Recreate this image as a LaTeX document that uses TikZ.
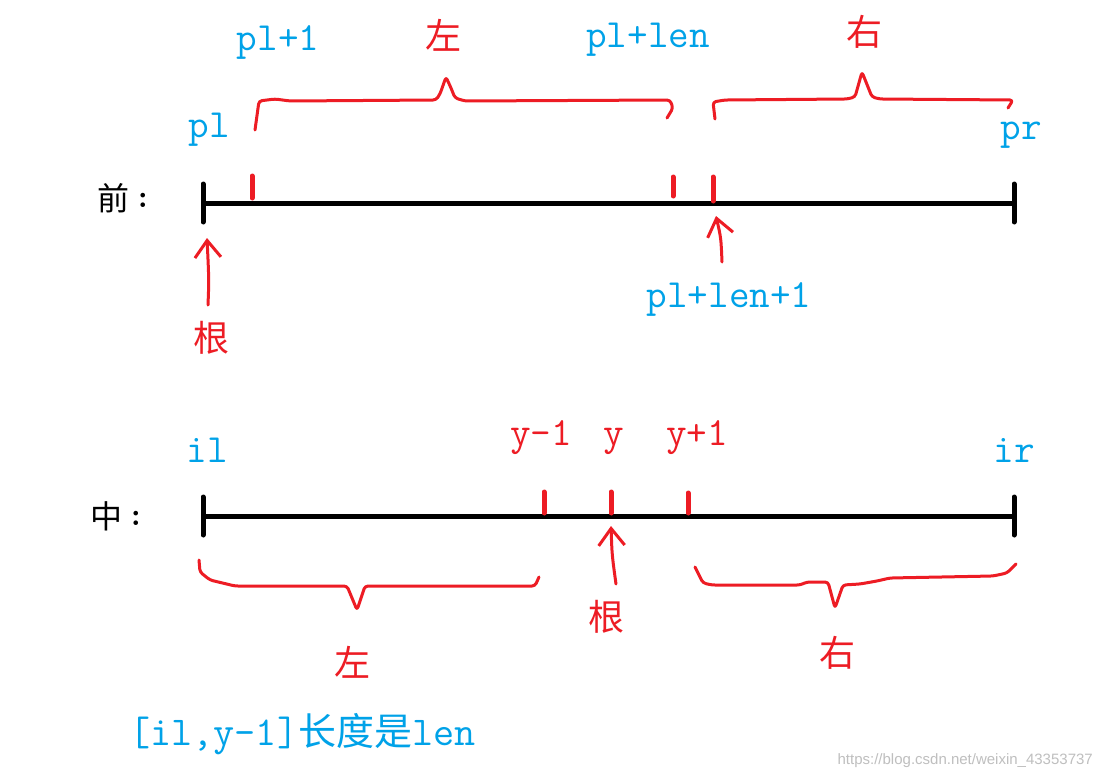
\documentclass[tikz,border=0pt]{standalone}
\usepackage{fontspec}
\newfontfamily\cjk{Noto Sans CJK SC}
\newfontfamily\wmfont{Liberation Sans}
\usetikzlibrary{arrows.meta}
\definecolor{pblue}{RGB}{0,162,232}
\definecolor{pred}{RGB}{237,28,36}
\tikzset{
  axis/.style={line width=5pt, black},
  endtick/.style={line width=5pt, black, line cap=round},
  redtick/.style={line width=5pt, pred, line cap=round},
  brace/.style={line width=3pt, pred, line cap=round, line join=round, rounded corners=3pt},
  arr/.style={line width=3pt, pred, line cap=round, -{Straight Barb[length=17pt,width=26pt,line width=3pt]}},
  bluelab/.style={font=\ttfamily\fontsize{40}{40}\selectfont, text=pblue, inner sep=0pt, anchor=base},
  redlab/.style={font=\ttfamily\fontsize{40}{40}\selectfont, text=pred, inner sep=0pt, anchor=base},
  zhred/.style={font=\cjk\fontsize{36}{36}\selectfont, text=pred, inner sep=0pt},
  zhblack/.style={font=\cjk\fontsize{32}{32}\selectfont, text=black, inner sep=0pt},
}
\begin{document}
\begin{tikzpicture}[x=1pt,y=-1pt]
\useasboundingbox (0,0) rectangle (1101,779);
\fill[white] (0,0) rectangle (1101,779);

% ---------- top line (pre-order) ----------
\coordinate (pa) at (203,203);
\coordinate (pb) at (1014,203);
\draw[axis] (pa) -- (pb);
\draw[endtick] (203,184) -- (203,222);
\draw[endtick] (1014,184) -- (1014,222);
\draw[redtick] (252,176) -- (252,198);
\draw[redtick] (673,177) -- (673,196);
\draw[redtick] (713,177) -- (713,201);

\node[zhblack] (qian) at (113,198) {前};
\node[zhblack, font=\bfseries\fontsize{32}{32}\selectfont] (qianc) at (143,200) {:};
\node[bluelab] (pl) at (209,137) {pl};
\node[bluelab] (pr) at (1021,139) {pr};
\node[bluelab] (pl1) at (278,50) {pl+1};
\node[bluelab] (pllen) at (648,47) {pl+len};
\node[zhred] (zuo1) at (443,35) {左};
\node[zhred] (you1) at (864,32) {右};

\draw[brace] (255,130) -- (259,101) -- (275,99) -- (290,101) -- (436,100) -- (440,94) -- (446,77) -- (451,88) -- (455,98) -- (465,101) -- (670,100) -- (673,108) -- (667,118);
\draw[brace] (715,119) -- (713,102) -- (725,100) -- (847,99) -- (855,97) -- (862,72) -- (872,97) -- (880,99) -- (1013,100) -- (1008,108);

\node[zhred] (gen1) at (211,338) {根};
\coordinate (g1s) at (208,305);
\coordinate (g1e) at (207,238);
\draw[arr] (g1s) .. controls (209,280) .. (g1e);

\node[bluelab] (pllen1) at (729,307) {pl+len+1};
\coordinate (p2s) at (722,262);
\coordinate (p2e) at (716,216);
\draw[arr] (p2s) .. controls (721,238) .. (p2e);

% ---------- bottom line (in-order) ----------
\coordinate (ia) at (203,516);
\coordinate (ib) at (1014,516);
\draw[axis] (ia) -- (ib);
\draw[endtick] (203,497) -- (203,535);
\draw[endtick] (1014,497) -- (1014,535);
\draw[redtick] (544,492) -- (544,513);
\draw[redtick] (611,492) -- (611,513);
\draw[redtick] (688,493) -- (688,513);

\node[zhblack] (zhong) at (106,516) {中};
\node[zhblack, font=\bfseries\fontsize{32}{32}\selectfont] (zhongc) at (136,518) {:};
\node[bluelab] (il) at (207,462) {il};
\node[bluelab] (ir) at (1014,462) {ir};
\node[redlab] (ym1) at (541,445) {y-1};
\node[redlab] (yy) at (614,445) {y};
\node[redlab] (yp1) at (697,445) {y+1};

\node[zhred] (gen2) at (606,617) {根};
\coordinate (g2s) at (616,584);
\coordinate (g2e) at (611,526);
\draw[arr] (g2s) .. controls (612,555) .. (g2e);

\draw[brace] (199,560) -- (200,572) -- (210,580) -- (235,586) -- (347,586) -- (357,610) -- (365,586) -- (535,586) -- (539,577);
\draw[brace] (695,567) -- (703,583) -- (712,585) -- (800,585) -- (807,582) -- (828,582) -- (835,608) -- (843,585) -- (860,584) -- (877,581) -- (890,578) -- (993,576) -- (1007,573) -- (1016,564);

\node[zhred] (zuo2) at (352,662) {左};
\node[zhred] (you2) at (837,653) {右};

\node[inner sep=0pt, anchor=base west, text=pblue] (note) at (129,745)
  {\ttfamily\fontsize{41}{41}\selectfont [il,y-1]{\cjk\fontsize{38}{38}\selectfont 长度是}len};

\node[inner sep=0pt, anchor=east, text=black!25, font=\wmfont\fontsize{15}{15}\selectfont] (wm) at (1093,761) {https://blog.csdn.net/weixin\_43353737};
\end{tikzpicture}
\end{document}
